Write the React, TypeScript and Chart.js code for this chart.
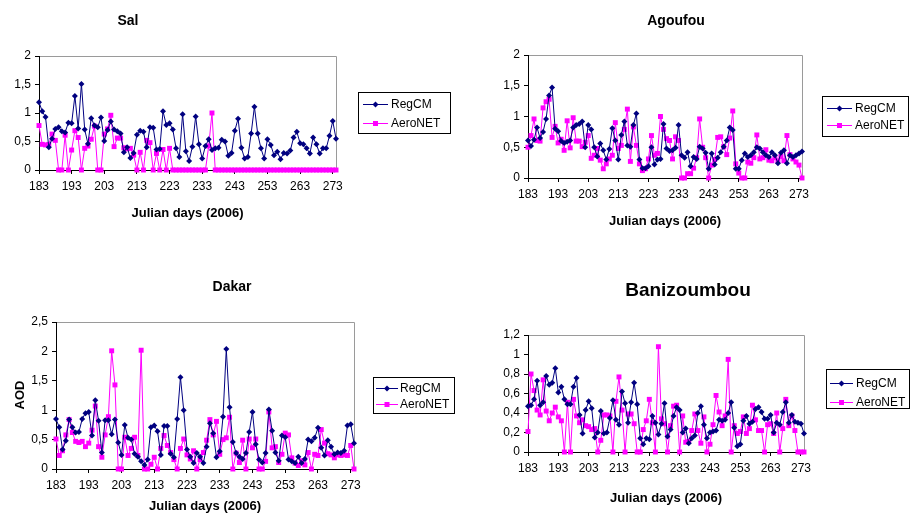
import React, { useEffect, useRef } from "react";
import { Chart, registerables } from "chart.js";

Chart.register(...registerables);

const FONT = "'Liberation Sans', Arial, Helvetica, sans-serif";
const NAVY = "#000080";
const MAGENTA = "#FF00FF";

// Julian days (2006), one category per day
const DAYS = [
  183, 184, 185, 186, 187, 188, 189, 190, 191, 192,
  193, 194, 195, 196, 197, 198, 199, 200, 201, 202,
  203, 204, 205, 206, 207, 208, 209, 210, 211, 212,
  213, 214, 215, 216, 217, 218, 219, 220, 221, 222,
  223, 224, 225, 226, 227, 228, 229, 230, 231, 232,
  233, 234, 235, 236, 237, 238, 239, 240, 241, 242,
  243, 244, 245, 246, 247, 248, 249, 250, 251, 252,
  253, 254, 255, 256, 257, 258, 259, 260, 261, 262,
  263, 264, 265, 266, 267, 268, 269, 270, 271, 272,
  273, 274,
];

const X_TICK_LABELS = ["183", "193", "203", "213", "223", "233", "243", "253", "263", "273"];

const SERIES_NAMES = ["RegCM", "AeroNET"];

// ---- Sal ----
const SAL_REGCM = [
  1.19, 1.03, 0.93, 0.40, 0.55, 0.72, 0.75, 0.68, 0.66, 0.83,
  0.82, 1.30, 0.73, 1.51, 0.71, 0.46, 0.91, 0.78, 0.75, 0.92,
  0.51, 0.70, 0.85, 0.71, 0.68, 0.64, 0.31, 0.40, 0.21, 0.30,
  0.62, 0.69, 0.67, 0.40, 0.75, 0.74, 0.36, 0.37, 1.03, 0.79,
  0.82, 0.71, 0.38, 0.23, 0.98, 0.33, 0.16, 0.41, 0.94, 0.45,
  0.20, 0.42, 0.54, 0.35, 0.38, 0.39, 0.53, 0.50, 0.25, 0.30,
  0.69, 0.90, 0.39, 0.20, 0.23, 0.64, 1.11, 0.64, 0.38, 0.20,
  0.54, 0.44, 0.26, 0.32, 0.19, 0.30, 0.29, 0.34, 0.57, 0.67,
  0.47, 0.45, 0.38, 0.29, 0.57, 0.45, 0.29, 0.38, 0.38, 0.60,
  0.86, 0.55,
];
const SAL_AERONET = [
  0.78, 0.45, 0.44, 0.45, 0.63, 0.52, 0, 0, 0.61, 0,
  0.35, 0.69, 0.57, 0, 0.38, 0.42, 0.54, 0.77, 0, 0,
  0.63, 0.72, 0.96, 0.41, 0.56, 0.56, 0.39, 0.37, 0.38, 0.26,
  0, 0.31, 0, 0.52, 0.48, 0, 0.29, 0, 0.36, 0,
  0.38, 0, 0, 0, 0, 0, 0, 0, 0, 0,
  0, 0, 0.42, 1.0, 0, 0, 0, 0, 0, 0,
  0, 0, 0, 0, 0, 0, 0, 0, 0, 0,
  0, 0, 0, 0, 0, 0, 0, 0, 0, 0,
  0, 0, 0, 0, 0, 0, 0, 0, 0, 0,
  0, 0,
];

// ---- Agoufou ----
const AGOUFOU_REGCM = [
  0.61, 0.52, 0.62, 0.82, 0.65, 0.75, 0.96, 1.34, 1.47, 0.80,
  0.76, 0.60, 0.57, 0.59, 0.61, 0.82, 0.86, 0.88, 0.92, 0.50,
  0.86, 0.79, 0.50, 0.35, 0.56, 0.45, 0.30, 0.47, 0.81, 0.61,
  0.30, 0.70, 0.92, 0.53, 0.51, 0.86, 1.05, 0.30, 0.16, 0.16,
  0.19, 0.50, 0.22, 0.30, 0.31, 0.88, 0.48, 0.44, 0.45, 0.49,
  0.86, 0.37, 0.33, 0.42, 0.19, 0.34, 0.31, 0.51, 0.48, 0.41,
  0.15, 0.40, 0.22, 0.33, 0.42, 0.51, 0.61, 0.82, 0.78, 0.15,
  0.15, 0.29, 0.40, 0.34, 0.37, 0.42, 0.50, 0.48, 0.42, 0.37,
  0.34, 0.42, 0.37, 0.24, 0.41, 0.45, 0.24, 0.37, 0.34, 0.37,
  0.40, 0.43,
];
const AGOUFOU_AERONET = [
  0.50, 0.69, 0.96, 0.61, 0.60, 1.14, 1.24, 1.28, 0.66, 0.84,
  0.57, 0.63, 0.45, 0.93, 0.49, 0.98, 0.60, 0.60, 0.51, 0.58,
  0.69, 0.32, 0.37, 0.48, 0.29, 0.15, 0.23, 0.31, 0.37, 0.90,
  0.48, 0.53, 0.79, 1.12, 0.27, 0.83, 0.53, 0.23, 0.12, 0.15,
  0.31, 0.69, 0.37, 0.40, 1.00, 0.79, 0.64, 0.61, 0.31, 0.67,
  0.61, 0, 0, 0.07, 0.07, 0.16, 0.33, 0.96, 0.50, 0.33,
  0, 0.21, 0.30, 0.66, 0.67, 0.51, 0.38, 0.65, 1.09, 0.23,
  0.08, 0, 0, 0.26, 0.24, 0.33, 0.70, 0.31, 0.33, 0.46,
  0.29, 0.28, 0.33, 0.28, 0.35, 0.28, 0.69, 0.38, 0.31, 0.26,
  0.21, 0,
];

// ---- Dakar ----
const DAKAR_REGCM = [
  0.85, 0.71, 0.33, 0.48, 0.84, 0.71, 0.62, 0.63, 0.85, 0.95,
  0.97, 0.57, 1.17, 0.82, 0.28, 0.83, 0.83, 0.59, 0.84, 0.45,
  0.24, 0.75, 0.53, 0.50, 0.26, 0.21, 0.13, 0.07, 0.16, 0.71,
  0.74, 0.64, 0.24, 0.73, 0.73, 0.26, 0.20, 0.85, 1.56, 1.00,
  0.33, 0.21, 0.10, 0.27, 0.21, 0.10, 0.38, 0.78, 0.61, 0.20,
  0.30, 0.89, 2.04, 1.05, 0.46, 0.27, 0.21, 0.17, 0.27, 0.63,
  0.97, 0.42, 0.16, 0.11, 0.27, 1.01, 0.65, 0.28, 0.14, 0.57,
  0.54, 0.16, 0.13, 0.10, 0.21, 0.10, 0.17, 0.50, 0.47, 0.53,
  0.70, 0.36, 0.23, 0.49, 0.38, 0.25, 0.28, 0.27, 0.31, 0.74,
  0.76, 0.44,
];
const DAKAR_AERONET = [
  0.51, 0.23, 0.31, 0.58, 0.84, 0.62, 0.47, 0.45, 0.47, 0.38,
  0.44, 0.66, 1.07, 0.38, 0.20, 0.58, 0.89, 2.01, 1.43, 0,
  0, 0.54, 0.23, 0.35, 0.54, 0.23, 2.02, 0, 0, 0.08,
  0.20, 0, 0.35, 0.57, 0.40, 0.28, 0.16, 0, 0.35, 0.51,
  0.24, 0.17, 0.31, 0, 0.16, 0.28, 0.49, 0.84, 0.58, 0.81,
  0.25, 0.50, 0.53, 0.88, 0, 0.27, 0.11, 0.49, 0, 0.51,
  0.36, 0.51, 0, 0, 0.13, 0.97, 0.36, 0.38, 0.11, 0.25,
  0.61, 0.58, 0.19, 0.10, 0.06, 0.14, 0.07, 0.28, 0, 0.25,
  0.23, 0.67, 0.44, 0.26, 0.24, 0.19, 0.24, 0.23, 0.24, 0.23,
  0.40, 0,
];

// ---- Banizoumbou ----
const BANI_REGCM = [
  0.47, 0.48, 0.54, 0.73, 0.48, 0.51, 0.78, 0.69, 0.71, 0.86,
  0.61, 0.67, 0.54, 0.49, 0.49, 0.67, 0.76, 0.38, 0.19, 0.43,
  0.52, 0.45, 0.15, 0.20, 0.42, 0.19, 0.20, 0.35, 0.53, 0.33,
  0.28, 0.62, 0.50, 0.30, 0.51, 0.71, 0.49, 0.14, 0.08, 0.14,
  0.13, 0.37, 0.30, 0.18, 0.29, 0.50, 0.16, 0.23, 0.37, 0.46,
  0.43, 0.20, 0.24, 0.09, 0.14, 0.17, 0.40, 0.47, 0.28, 0.14,
  0.20, 0.21, 0.22, 0.33, 0.32, 0.33, 0.40, 0.51, 0.25, 0.06,
  0.08, 0.32, 0.37, 0.29, 0.31, 0.44, 0.46, 0.41, 0.34, 0.34,
  0.38, 0.20, 0.30, 0.28, 0.41, 0.51, 0.30, 0.38, 0.31, 0.30,
  0.29, 0.19,
];
const BANI_AERONET = [
  0.21, 0.80, 0.63, 0.43, 0.38, 0.74, 0.42, 0.32, 0.40, 0.46,
  0.36, 0.32, 0, 0.51, 0, 0.54, 0.37, 0.30, 0.33, 0.27,
  0.26, 0.23, 0.24, 0, 0.12, 0.38, 0.38, 0.37, 0, 0.52,
  0.77, 0.43, 0, 0.39, 0.39, 0.29, 0, 0, 0.23, 0.32,
  0.54, 0.30, 0, 1.08, 0.34, 0.29, 0, 0.27, 0.47, 0.48,
  0, 0.37, 0.10, 0.11, 0.22, 0.39, 0.22, 0.09, 0.36, 0,
  0.08, 0.28, 0.58, 0.41, 0.27, 0.37, 0.95, 0, 0.27, 0.19,
  0.21, 0.36, 0.19, 0.24, 0.48, 0.33, 0.22, 0.22, 0, 0.28,
  0.29, 0.19, 0.40, 0, 0.24, 0.54, 0.27, 0.37, 0.22, 0,
  0, 0,
];

const X_AXIS_H = 30;

type Rect = { x: number; y: number; w: number; h: number };
type PanelSpec = {
  title: string;
  titleSize: number;
  titlePos: [number, number];
  canvas: Rect;
  area: { l: number; t: number; r: number; b: number };
  yWidth: number;
  yMax: number;
  yStep: number;
  reg: number[];
  aero: number[];
  xTitleY: number;
  yTitle?: { text: string; x: number; y: number };
  legend: { x: number; y: number; w: number; h: number; rows: [number, number]; lineX: [number, number]; textX: number };
};

const PANELS: PanelSpec[] = [
  {
    title: "Sal", titleSize: 14, titlePos: [128, 21],
    canvas: { x: 0, y: 0, w: 455, h: 256 },
    area: { l: 39, t: 56, r: 336, b: 170 },
    yWidth: 32, yMax: 2, yStep: 0.5,
    reg: SAL_REGCM, aero: SAL_AERONET,
    xTitleY: 213,
    legend: { x: 358, y: 92, w: 92, h: 41, rows: [104, 123], lineX: [363, 388], textX: 391 },
  },
  {
    title: "Agoufou", titleSize: 14, titlePos: [676, 21],
    canvas: { x: 455, y: 0, w: 455, h: 256 },
    area: { l: 528, t: 55, r: 802, b: 178 },
    yWidth: 32, yMax: 2, yStep: 0.5,
    reg: AGOUFOU_REGCM, aero: AGOUFOU_AERONET,
    xTitleY: 221,
    legend: { x: 822, y: 96, w: 86, h: 40, rows: [108, 125], lineX: [827, 852], textX: 855 },
  },
  {
    title: "Dakar", titleSize: 14, titlePos: [232, 287],
    canvas: { x: 0, y: 256, w: 455, h: 257 },
    area: { l: 56, t: 322, r: 354, b: 469 },
    yWidth: 32, yMax: 2.5, yStep: 0.5,
    reg: DAKAR_REGCM, aero: DAKAR_AERONET,
    xTitleY: 506,
    yTitle: { text: "AOD", x: 20, y: 395 },
    legend: { x: 373, y: 377, w: 81, h: 36, rows: [388, 404], lineX: [376, 398], textX: 400 },
  },
  {
    title: "Banizoumbou", titleSize: 19, titlePos: [688, 291],
    canvas: { x: 455, y: 256, w: 455, h: 257 },
    area: { l: 528, t: 335, r: 804, b: 452 },
    yWidth: 34, yMax: 1.2, yStep: 0.2,
    reg: BANI_REGCM, aero: BANI_AERONET,
    xTitleY: 498,
    legend: { x: 826, y: 369, w: 83, h: 39, rows: [383, 402], lineX: [830, 853], textX: 856 },
  },
];

function fmtY(v: number): string {
  const r = Math.round(v * 10) / 10;
  return String(r).replace(".", ",");
}

function drawMarker(ctx: CanvasRenderingContext2D, kind: "diamond" | "square", x: number, y: number, color: string) {
  ctx.fillStyle = color;
  ctx.beginPath();
  if (kind === "diamond") {
    ctx.moveTo(x, y - 3);
    ctx.lineTo(x + 3, y);
    ctx.lineTo(x, y + 3);
    ctx.lineTo(x - 3, y);
    ctx.closePath();
  } else {
    ctx.rect(x - 2.5, y - 2.5, 5, 5);
  }
  ctx.fill();
}

function makeDecor(spec: PanelSpec) {
  const ox = spec.canvas.x;
  const oy = spec.canvas.y;
  return {
    id: "decor-" + spec.title,
    beforeDatasetsDraw(chart: any) {
      const ca = chart.chartArea;
      const ctx = chart.ctx as CanvasRenderingContext2D;
      ctx.save();
      ctx.strokeStyle = "#9a9a9a";
      ctx.lineWidth = 1;
      ctx.beginPath();
      const top = Math.round(ca.top) + 0.5;
      const right = Math.round(ca.right) + 0.5;
      ctx.moveTo(ca.left + 1, top);
      ctx.lineTo(right, top);
      ctx.lineTo(right, ca.bottom - 1);
      ctx.stroke();
      ctx.restore();
    },
    afterDraw(chart: any) {
      const ctx = chart.ctx as CanvasRenderingContext2D;
      const ca = chart.chartArea;
      ctx.save();
      ctx.fillStyle = "#000";
      ctx.textAlign = "center";
      ctx.textBaseline = "middle";
      // title
      ctx.font = `bold ${spec.titleSize}px ${FONT}`;
      ctx.fillText(spec.title, spec.titlePos[0] - ox, spec.titlePos[1] - oy);
      // x title
      ctx.font = `bold 13px ${FONT}`;
      ctx.fillText("Julian days (2006)", (ca.left + ca.right) / 2, spec.xTitleY - oy);
      // y title
      if (spec.yTitle) {
        ctx.save();
        ctx.translate(spec.yTitle.x - ox, spec.yTitle.y - oy);
        ctx.rotate(-Math.PI / 2);
        ctx.fillText(spec.yTitle.text, 0, 0);
        ctx.restore();
      }
      // legend
      const lg = spec.legend;
      ctx.strokeStyle = "#000";
      ctx.lineWidth = 1;
      ctx.strokeRect(lg.x - ox + 0.5, lg.y - oy + 0.5, lg.w, lg.h);
      const colors = [NAVY, MAGENTA];
      const kinds: ("diamond" | "square")[] = ["diamond", "square"];
      ctx.font = `12px ${FONT}`;
      ctx.textAlign = "left";
      for (let k = 0; k < 2; k++) {
        const y = lg.rows[k] - oy;
        ctx.strokeStyle = colors[k];
        ctx.beginPath();
        ctx.moveTo(lg.lineX[0] - ox, Math.round(y) + 0.5);
        ctx.lineTo(lg.lineX[1] - ox, Math.round(y) + 0.5);
        ctx.stroke();
        drawMarker(ctx, kinds[k], (lg.lineX[0] + lg.lineX[1]) / 2 - ox, Math.round(y) + 0.5, colors[k]);
        ctx.fillStyle = "#000";
        ctx.fillText(SERIES_NAMES[k], lg.textX - ox, y + 1);
      }
      ctx.restore();
    },
  };
}

function Panel({ spec }: { spec: PanelSpec }) {
  const ref = useRef<HTMLCanvasElement | null>(null);
  useEffect(() => {
    const canvas = ref.current;
    if (!canvas) return;
    const c = spec.canvas;
    const a = spec.area;
    const labels = DAYS.map(String);
    const isLabelled = (i: number) => X_TICK_LABELS.includes(labels[i]);
    const chart = new Chart(canvas, {
      type: "line",
      data: {
        labels,
        datasets: [
          {
            label: SERIES_NAMES[0],
            data: spec.reg,
            borderColor: NAVY,
            backgroundColor: NAVY,
            borderWidth: 1,
            pointStyle: "rectRot",
            pointRadius: 3,
            pointHoverRadius: 3,
            pointBorderWidth: 0,
            tension: 0,
            clip: false,
          } as any,
          {
            label: SERIES_NAMES[1],
            data: spec.aero,
            borderColor: MAGENTA,
            backgroundColor: MAGENTA,
            borderWidth: 1,
            pointStyle: "rect",
            pointRadius: 3.5,
            pointHoverRadius: 3.5,
            pointBorderWidth: 0,
            tension: 0,
            clip: false,
          } as any,
        ],
      },
      options: {
        responsive: false,
        animation: false,
        events: [],
        layout: {
          padding: {
            left: a.l - c.x - spec.yWidth,
            top: a.t - c.y,
            right: c.x + c.w - a.r,
            bottom: c.y + c.h - a.b - X_AXIS_H,
          },
        },
        plugins: {
          legend: { display: false },
          title: { display: false },
          tooltip: { enabled: false },
        },
        scales: {
          x: {
            type: "category",
            offset: false,
            grid: {
              drawOnChartArea: false,
              offset: false,
              tickLength: 4,
              color: (ctx: any) => (isLabelled(ctx.index) ? "#000" : "rgba(0,0,0,0)"),
            },
            border: { color: "#000", width: 1 },
            ticks: {
              autoSkip: false,
              maxRotation: 0,
              minRotation: 0,
              padding: 5,
              color: "#000",
              font: { family: FONT, size: 12 },
              callback: (_v: any, i: number) => (isLabelled(i) ? labels[i] : ""),
            },
            afterFit: (s: any) => {
              s.height = X_AXIS_H;
            },
          } as any,
          y: {
            min: 0,
            max: spec.yMax,
            grid: { drawOnChartArea: false, tickLength: 4, color: "#000" },
            border: { color: "#000", width: 1 },
            ticks: {
              stepSize: spec.yStep,
              padding: 4,
              color: "#000",
              font: { family: FONT, size: 12 },
              callback: (v: any) => fmtY(Number(v)),
            },
            afterFit: (s: any) => {
              s.width = spec.yWidth;
            },
          } as any,
        },
      },
      plugins: [makeDecor(spec)],
    });
    return () => chart.destroy();
  }, [spec]);
  const c = spec.canvas;
  return (
    <canvas
      ref={ref}
      width={c.w}
      height={c.h}
      style={{ position: "absolute", left: c.x, top: c.y, width: c.w, height: c.h }}
    />
  );
}

export default function App() {
  return (
    <div style={{ position: "absolute", left: 0, top: 0, width: 910, height: 513, background: "#fff", overflow: "hidden" }}>
      {PANELS.map((p) => (
        <Panel key={p.title} spec={p} />
      ))}
    </div>
  );
}
